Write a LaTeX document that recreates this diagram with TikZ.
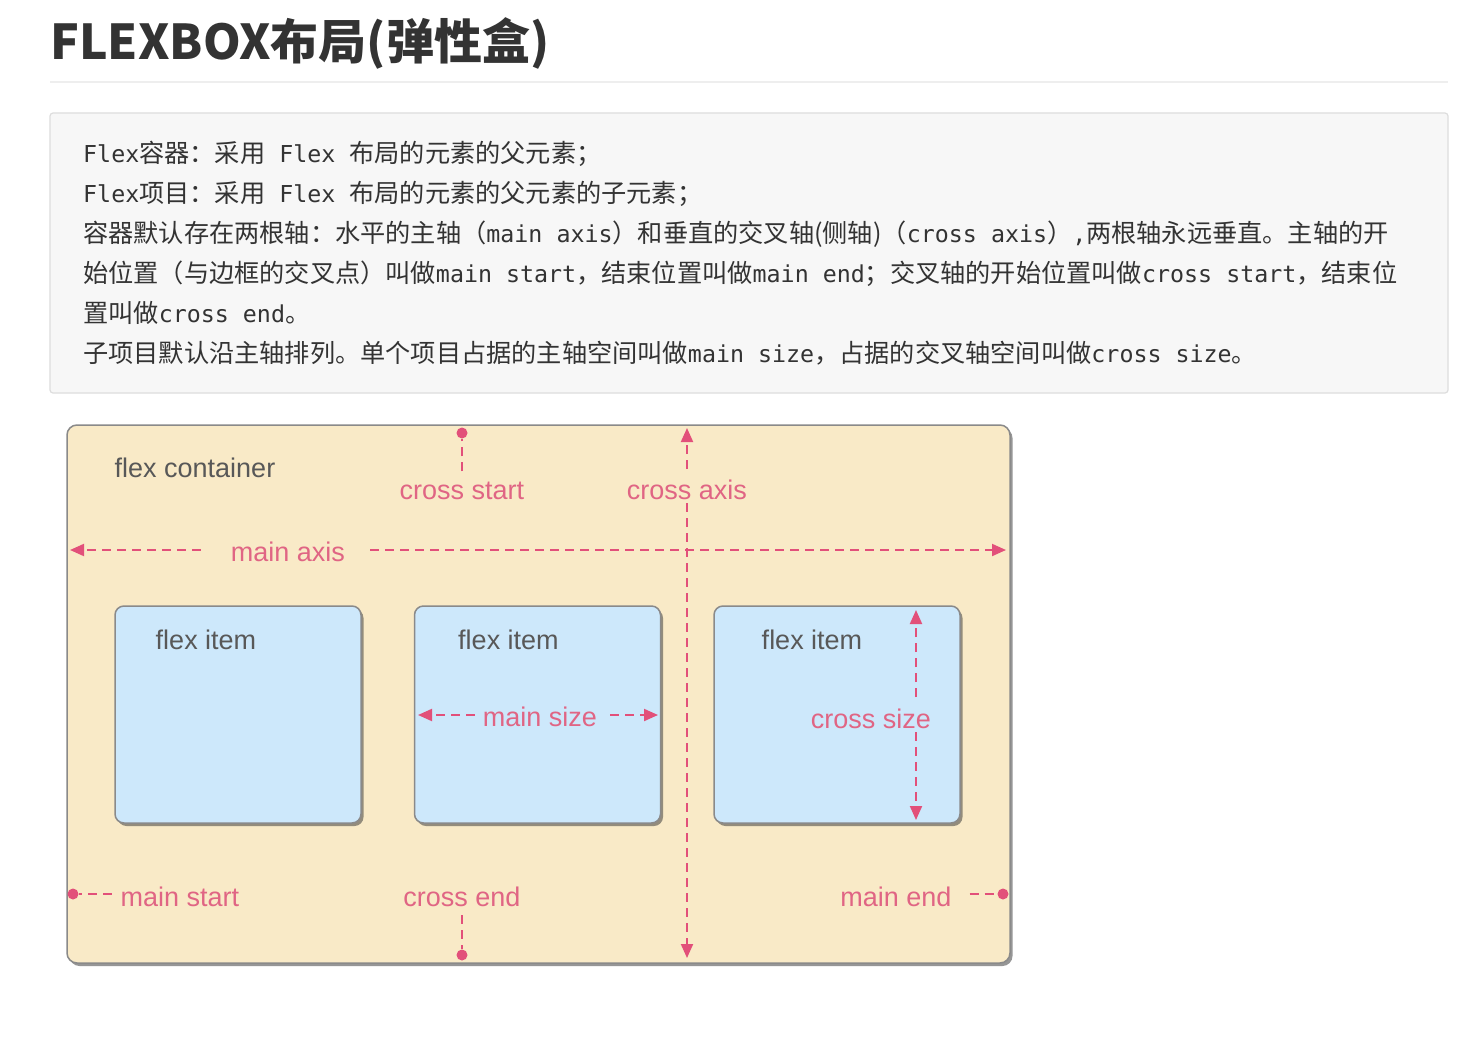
\documentclass[tikz,border=0pt]{standalone}
\usepackage{fontspec}
\setmainfont{Liberation Sans}
\setmonofont{DejaVu Sans Mono}
\newfontfamily\cjk{Noto Sans CJK SC}
\usetikzlibrary{arrows.meta, shadows, positioning}

\definecolor{beige}{HTML}{F9EAC7}
\definecolor{itemblue}{HTML}{CDE8FB}
\definecolor{axispink}{HTML}{E2507A}
\definecolor{labelpink}{HTML}{E06584}
\definecolor{labelgray}{HTML}{585858}
\definecolor{boxgray}{HTML}{8A8A8A}
\definecolor{bodytext}{HTML}{333333}
\definecolor{codebg}{HTML}{F7F7F7}
\definecolor{codeborder}{HTML}{DDDDDD}
\definecolor{rulegray}{HTML}{EEEEEE}

\newcommand{\lat}[1]{{\ttfamily\fontsize{23.3}{30}\selectfont #1}}

\begin{document}
\begin{tikzpicture}[x=1pt, y=-1pt,
    body/.style={anchor=base west, inner sep=0pt, text=bodytext, font=\cjk\fontsize{25.2}{30}\selectfont},
    container/.style={draw=boxgray, line width=1.5pt, fill=beige, rounded corners=10pt,
        minimum width=943pt, minimum height=538pt,
        drop shadow={shadow xshift=2.5pt, shadow yshift=-3pt, opacity=0.55, fill=black!75}},
    flexitem/.style={draw=boxgray, line width=1.5pt, fill=itemblue, rounded corners=9pt,
        minimum width=246pt, minimum height=217pt,
        drop shadow={shadow xshift=2.5pt, shadow yshift=-3pt, opacity=0.55, fill=black!75}},
    darklabel/.style={anchor=base, inner sep=4pt, text=labelgray, font=\fontsize{27}{32}\selectfont},
    pinklabel/.style={darklabel, text=labelpink},
    axisline/.style={draw=axispink, line width=2pt, dash pattern=on 9pt off 6pt},
    axisarrow/.style={axisline, -{Triangle[length=14pt, width=12pt]}},
    dot/.style={circle, fill=axispink, inner sep=0pt, minimum size=11pt}]

\fill[white] (0,0) rectangle (1468,1047);
\useasboundingbox (0,0) rectangle (1468,1047);

% heading
\node[anchor=base west, inner sep=0pt, text=bodytext, font=\cjk\bfseries\fontsize{48}{58}\selectfont] (title) at (50,59) {FLEXBOX布局(弹性盒)};
\draw[rulegray, line width=1.5pt] (50,82) -- (1448,82);

% text block
\draw[codeborder, fill=codebg, line width=1.2pt, rounded corners=3pt] (50,113) rectangle (1448,393);
\node[body] (line1) at (83,162) {\lat{Flex}容器：采用\lat{ Flex }布局的元素的父元素；};
\node[body] (line2) at (83,202) {\lat{Flex}项目：采用\lat{ Flex }布局的元素的父元素的子元素；};
\node[body] (line3) at (83,242) {容器默认存在两根轴：水平的主轴（\lat{main axis}）和垂直的交叉轴(侧轴)（\lat{cross axis}）\lat{,}两根轴永远垂直。主轴的开};
\node[body] (line4) at (83,282) {始位置（与边框的交叉点）叫做\lat{main start}，结束位置叫做\lat{main end}；交叉轴的开始位置叫做\lat{cross start}，结束位};
\node[body] (line5) at (83,322) {置叫做\lat{cross end}。};
\node[body] (line6) at (83,362) {子项目默认沿主轴排列。单个项目占据的主轴空间叫做\lat{main size}，占据的交叉轴空间叫做\lat{cross size}。};

% flex container and items
\node[container] (cont) at (538.5,694) {};
\node[flexitem] (item1) at (238,714.5) {};
\node[flexitem, right=52pt of item1] (item2) {};
\node[flexitem, right=52pt of item2] (item3) {};

\node[darklabel] (contlabel) at (195,477) {flex container};
\node[darklabel] (label1) at ([xshift=-32pt, yshift=-44pt]item1.north) {flex item};
\node[darklabel] (label2) at ([xshift=-29pt, yshift=-44pt]item2.north) {flex item};
\node[darklabel] (label3) at ([xshift=-25pt, yshift=-44pt]item3.north) {flex item};

\node[pinklabel] (crossstart) at (462,499) {cross start};
\node[pinklabel] (crossaxis) at (687,499) {cross axis};
\node[pinklabel] (mainaxis) at (288,561) {main axis};
\node[pinklabel] (mainsize) at (540,726) {main size};
\node[pinklabel] (crosssize) at (871,728) {cross size};
\node[pinklabel] (mainstart) at (180,906) {main start};
\node[pinklabel] (crossend) at (462,906) {cross end};
\node[pinklabel] (mainend) at (896,906) {main end};

\node[dot] (csdot) at (462,433) {};
\node[dot] (cedot) at (462,955) {};
\node[dot] (msdot) at (73,894) {};
\node[dot] (medot) at (1003,894) {};

\coordinate (maL) at (70,550);
\coordinate (maR) at (1006,550);
\coordinate (caT) at (687,428);
\coordinate (caB) at (687,958);
\coordinate (msL) at (418,715);
\coordinate (msR) at (658,715);
\coordinate (csT) at (916,610);
\coordinate (csB) at (916,820);

% axes
\draw[axisarrow, shorten <=26pt] (mainaxis.west |- maL) -- (maL);
\draw[axisarrow, shorten <=21pt] (mainaxis.east |- maR) -- (maR);
\draw[axisarrow, shorten <=6pt] (crossaxis.north) -- (caT);
\draw[axisarrow] (crossaxis.south) -- (caB);
\draw[axisarrow, shorten <=4pt] (mainsize.west |- msL) -- (msL);
\draw[axisarrow, shorten <=9pt] (mainsize.east |- msR) -- (msR);
\draw[axisarrow, shorten <=7pt] (crosssize.north -| csT) -- (csT);
\draw[axisarrow] (crosssize.south -| csB) -- (csB);

% start and end points
\draw[axisline, shorten <=6pt] (crossstart.north) -- (csdot);
\draw[axisline, shorten <=5pt] (crossend.south) -- (cedot);
\draw[axisline, shorten <=5pt] (mainstart.west |- msdot) -- (msdot);
\draw[axisline, shorten <=14pt] (mainend.east |- medot) -- (medot);
\end{tikzpicture}
\end{document}
